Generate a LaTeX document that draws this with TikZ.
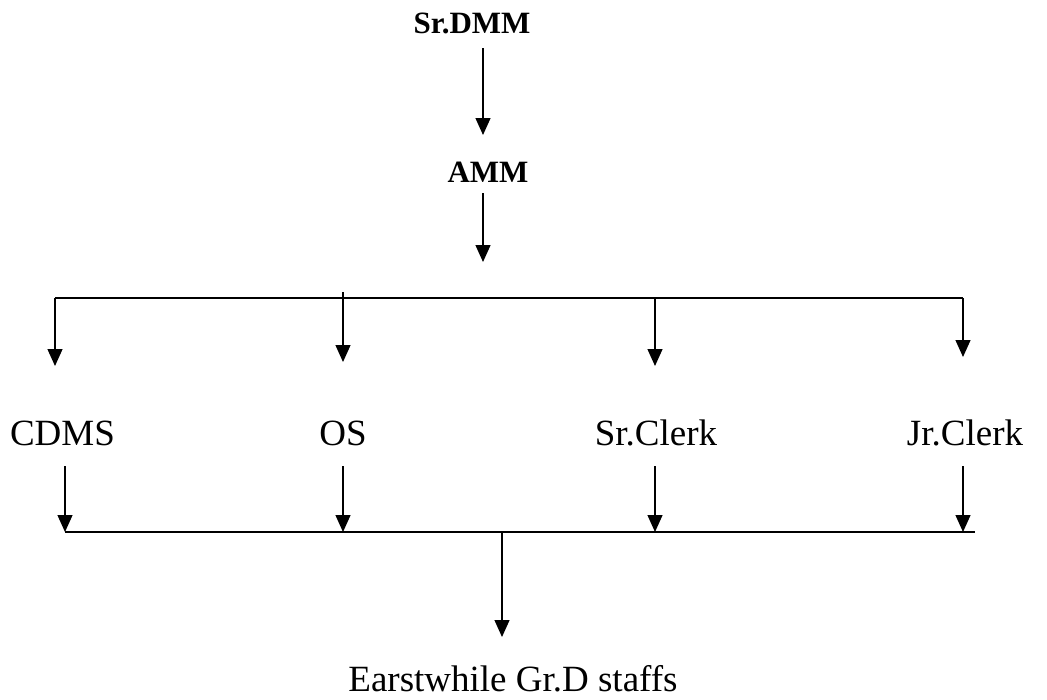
\documentclass[tikz,border=0pt]{standalone}
\usepackage{fontspec}
\setmainfont{Liberation Serif}
\usetikzlibrary{positioning,arrows.meta}
\tikzset{>={Triangle[width=15pt,length=17pt]}}
\newcommand*{\boss}[1]{\fontsize{31}{36}\selectfont\bfseries #1}
\newcommand*{\post}[1]{\fontsize{37}{44}\selectfont #1}

\begin{document}
\begin{tikzpicture}[x=1pt,y=-1pt,line width=1.3pt,
  lbl/.style={anchor=base,inner sep=0pt}]
\useasboundingbox (0,0) rectangle (1047,699);
% heads
\node[lbl] (srdmm) at (472,33) {\boss{Sr.DMM}};
\node[lbl] (amm) at (488,182) {\boss{AMM}};
\draw[->] (483,48) coordinate (a1) -- (483,135) coordinate (a2);
\draw[->] (483,193) coordinate (a3) -- (483,262) coordinate (a4);
% upper bus
\coordinate (upL) at (55,298);
\coordinate (upR) at (963,298);
\draw (upL) -- (upR);
\foreach \x/\t in {55/366,655/366,963/357}
  \draw[->] (\x,298) -- (\x,\t);
\draw[->] (343,292) -- (343,362);
% posts
\node[lbl] (cdms) at (62.5,445) {\post{CDMS}};
\node[lbl] (os) at (343,445) {\post{OS}};
\node[lbl] (srclerk) at (656,445) {\post{Sr.Clerk}};
\node[lbl] (jrclerk) at (965,445) {\post{Jr.Clerk}};
% lower bus
\coordinate (loL) at (65,532);
\coordinate (loR) at (975,532);
\foreach \x in {65,343,655,963}
  \draw[->] (\x,466) -- (\x,532);
\draw (loL) -- (loR);
\draw[->] (502,532) -- (502,637);
\node[lbl] (staff) at (513,691) {\post{Earstwhile Gr.D staffs}};
\end{tikzpicture}
\end{document}
